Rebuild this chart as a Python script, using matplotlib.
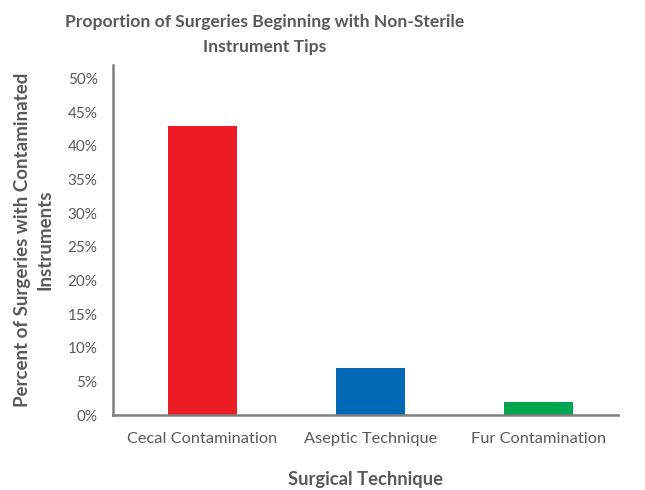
import matplotlib

matplotlib.use("Agg")
import matplotlib.pyplot as plt
from matplotlib.ticker import PercentFormatter, MultipleLocator

categories = ["Cecal Contamination", "Aseptic Technique", "Fur Contamination"]
values = [43, 7, 2]
colors = ["#ED1C24", "#0068B4", "#00A650"]

TEXT = "#595959"
plt.rcParams["font.family"] = ["Lato", "DejaVu Sans"]

fig = plt.figure(figsize=(6.45, 4.9), dpi=100)
ax = fig.add_axes([0.175, 0.153, 0.783, 0.714])

ax.bar(range(len(categories)), values, width=0.41, color=colors)
ax.set_xlim(-0.53, 2.47)
ax.set_ylim(0, 52)
ax.yaxis.set_major_locator(MultipleLocator(5))
ax.yaxis.set_major_formatter(PercentFormatter(decimals=0))
ax.set_xticks(range(len(categories)), categories)

for side in ("top", "right"):
    ax.spines[side].set_visible(False)
for side in ("left", "bottom"):
    ax.spines[side].set_color("#7f7f7f")
    ax.spines[side].set_linewidth(1.8)
ax.tick_params(length=0, labelcolor=TEXT)
ax.tick_params(axis="x", labelsize=11.8, pad=12)
ax.tick_params(axis="y", labelsize=11, pad=11)

ax.set_xlabel("Surgical Technique", fontsize=13.2, fontweight="bold", color=TEXT, labelpad=18)
ax.set_ylabel("Percent of Surgeries with Contaminated\nInstruments", fontsize=13.5,
              fontweight="bold", color=TEXT, labelpad=10, linespacing=1.45)
fig.suptitle("Proportion of Surgeries Beginning with Non-Sterile\nInstrument Tips",
             x=0.41, y=0.972, fontsize=12.6, fontweight="bold", color=TEXT, linespacing=1.75)

fig.savefig("out.png", dpi=100)
